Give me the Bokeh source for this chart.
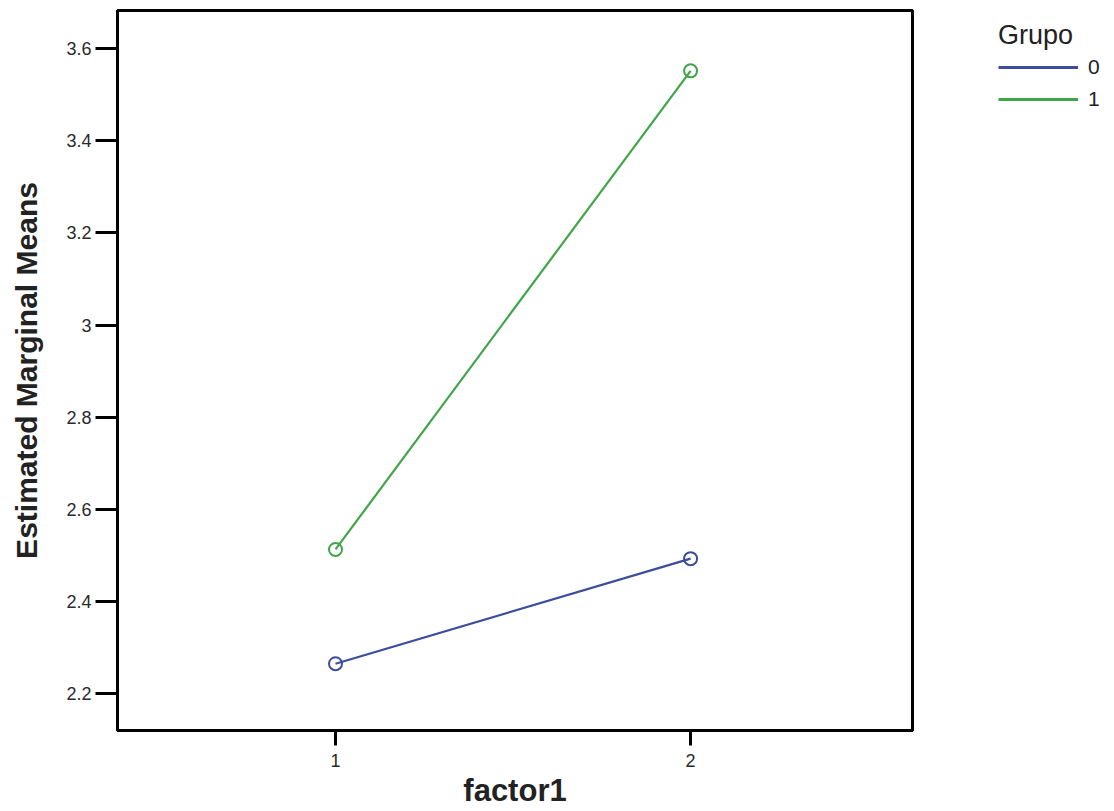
from bokeh.plotting import figure
from bokeh.layouts import row
from bokeh.models import Range1d, FixedTicker, Legend, LegendItem
from bokeh.embed import file_html
from bokeh.resources import INLINE

# data
factor_levels = [1, 2]
grupo0_means = [2.265, 2.493]
grupo1_means = [2.513, 3.552]
y_ticks = [2.2, 2.4, 2.6, 2.8, 3.0, 3.2, 3.4, 3.6]
y_tick_labels = {2.2: "2.2", 2.4: "2.4", 2.6: "2.6", 2.8: "2.8", 3.0: "3",
                 3.2: "3.2", 3.4: "3.4", 3.6: "3.6"}
group_names = ["0", "1"]
colors = ["#3c4d9c", "#3fa548"]

p = figure(width=914, height=811, output_backend="svg", toolbar_location=None,
           x_range=Range1d(0.386, 2.625), y_range=Range1d(2.12, 3.683),
           min_border_left=117, min_border_right=2, min_border_top=10,
           min_border_bottom=81)
p.grid.visible = False
p.outline_line_color = "black"
p.outline_line_width = 3
p.background_fill_color = "white"
p.border_fill_color = "white"

font = "Liberation Sans"
p.yaxis.ticker = FixedTicker(ticks=y_ticks)
p.yaxis.major_label_overrides = y_tick_labels
p.xaxis.ticker = FixedTicker(ticks=factor_levels)
for ax in (p.xaxis[0], p.yaxis[0]):
    ax.axis_line_color = "black"
    ax.axis_line_width = 3
    ax.major_tick_line_color = "black"
    ax.major_tick_line_width = 3
    ax.minor_tick_line_color = None
    ax.major_tick_in = 0
    ax.major_label_text_font = font
    ax.major_label_text_font_size = "18px"
    ax.major_label_text_color = "#2a2a2a"
    ax.axis_label_text_font = font
    ax.axis_label_text_font_style = "bold"
    ax.axis_label_text_color = "#222222"
p.yaxis.major_tick_out = 22
p.yaxis.major_label_standoff = 4
p.xaxis.major_tick_out = 15
p.xaxis.major_label_standoff = 8
p.yaxis.axis_label = "Estimated Marginal Means"
p.yaxis.axis_label_text_font_size = "30px"
p.yaxis.axis_label_standoff = 20
p.xaxis.axis_label = "factor1"
p.xaxis.axis_label_text_font_size = "31px"
p.xaxis.axis_label_standoff = 3

p.line(factor_levels, grupo0_means, line_color=colors[0], line_width=2.2)
p.scatter(factor_levels, grupo0_means, marker="circle", size=13, line_color=colors[0],
          line_width=2, fill_color=None)
p.line(factor_levels, grupo1_means, line_color=colors[1], line_width=2.2)
p.scatter(factor_levels, grupo1_means, marker="circle", size=13, line_color=colors[1],
          line_width=2, fill_color=None)

# legend panel (its renderers lie outside its visible range; only the legend shows)
pl = figure(width=200, height=811, output_backend="svg", toolbar_location=None,
            x_range=Range1d(-1, 0), y_range=Range1d(-1, 0),
            min_border_left=74, min_border_top=10, min_border_right=0,
            min_border_bottom=81)
pl.axis.visible = False
pl.grid.visible = False
pl.outline_line_color = None
leg_r0 = pl.line(factor_levels, grupo0_means, line_color=colors[0], line_width=3)
leg_r1 = pl.line(factor_levels, grupo1_means, line_color=colors[1], line_width=3)

legend = Legend(items=[LegendItem(label=group_names[0], renderers=[leg_r0]),
                       LegendItem(label=group_names[1], renderers=[leg_r1])],
                location="top_left", title="Grupo")
legend.title_text_font = font
legend.title_text_font_size = "27px"
legend.title_text_font_style = "normal"
legend.title_text_color = "#222222"
legend.title_standoff = 4
legend.label_text_font = font
legend.label_text_font_size = "21px"
legend.label_text_color = "#222222"
legend.glyph_width = 80
legend.glyph_height = 20
legend.spacing = 8
legend.label_standoff = 10
legend.padding = 0
legend.margin = 10
legend.border_line_color = None
legend.background_fill_alpha = 0
pl.add_layout(legend)

layout = row(p, pl)
open("out.html", "w").write(file_html(layout, INLINE))
